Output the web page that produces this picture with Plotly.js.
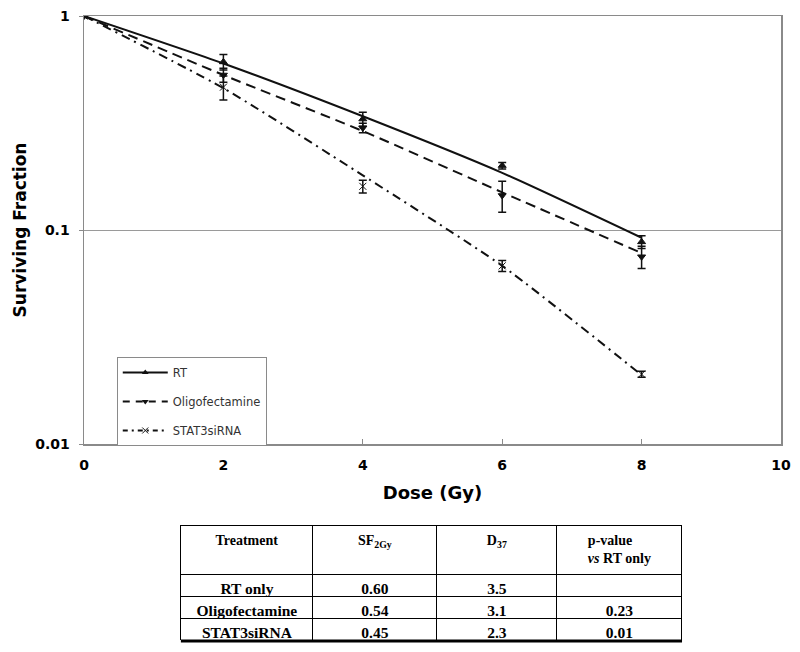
<!DOCTYPE html>
<html>
<head>
<meta charset="utf-8">
<script src="https://cdn.plot.ly/plotly-3.0.1.min.js"></script>
<style>
  body { margin: 0; background: #fff; }
  #chart { width: 800px; height: 652px; }
</style>
</head>
<body>
<div id="chart"></div>
<script>
// Doses (Gy)
const dose = [0, 2, 4, 6, 8];

// Fitted survival curves
const fitRT = [1, 0.60, 0.34, 0.185, 0.092];
const fitOligo = [1, 0.53, 0.29, 0.15, 0.078];
const fitStat3 = [1, 0.46, 0.18, 0.068, 0.021];

// Measured points and error bars
const ptRT = [1, 0.61, 0.33, 0.20, 0.088];
const errRT = [0, 0.05, 0.025, 0.007, 0.006];
const ptOligo = [1, 0.53, 0.30, 0.145, 0.075];
const errOligo = [0, 0.04, 0.015, 0.024, 0.009];
const ptStat3 = [1, 0.465, 0.16, 0.068, 0.0212];
const errStat3 = [0, 0.06, 0.011, 0.004, 0.0007];

// Table under the chart
const tblHeader = ['<b>Treatment</b>', '<b>SF<sub>2Gy</sub></b>', '<b>D<sub>37</sub></b>', '<b>p-value</b><br><b><i>vs</i> RT only</b>'];
const tblTreatment = ['RT only', 'Oligofectamine', 'STAT3siRNA'];
const tblSF2 = ['0.60', '0.54', '0.45'];
const tblD37 = ['3.5', '3.1', '2.3'];
const tblP = ['', '0.23', '0.01'];

const ink = '#111';

function fitTrace(y, dash, name) {
  return {
    x: dose, y: y, type: 'scatter', mode: 'lines', name: name,
    line: {color: ink, width: 2, dash: dash, shape: 'spline', smoothing: 0.6},
    showlegend: false, hoverinfo: 'skip'
  };
}

function pointTrace(y, err, symbol, name) {
  return {
    x: dose, y: y, type: 'scatter', mode: 'markers', name: name,
    marker: {symbol: symbol, size: 7, color: ink, line: {color: ink, width: 1}},
    error_y: {type: 'data', array: err, visible: true, color: ink, thickness: 1.5, width: 4},
    showlegend: false
  };
}

// legend-only entries (line + marker sample)
function legendTrace(dash, symbol, name) {
  return {
    x: [null], y: [null], type: 'scatter', mode: 'lines+markers', name: name,
    legendgroup: name,
    line: {color: ink, width: 2, dash: dash},
    marker: {symbol: symbol, size: 6, color: ink},
    showlegend: true
  };
}

const dashDot = '9px,5px,2px,5px';

// table placement (paper coords)
const tblX = [0.139, 0.858];
const tblY = [0.0095, 0.1933];

const traces = [
  fitTrace(fitRT, 'solid', 'RT'),
  fitTrace(fitOligo, '10px,6px', 'Oligofectamine'),
  fitTrace(fitStat3, dashDot, 'STAT3siRNA'),
  pointTrace(ptRT, errRT, 'triangle-up', 'RT'),
  pointTrace(ptOligo, errOligo, 'triangle-down', 'Oligofectamine'),
  pointTrace(ptStat3, errStat3, 'x-thin-open', 'STAT3siRNA'),
  legendTrace('solid', 'triangle-up', 'RT'),
  legendTrace('7px,6px', 'triangle-down', 'Oligofectamine'),
  legendTrace('5px,4px,2px,4px', 'x-thin-open', 'STAT3siRNA'),
  {
    type: 'table',
    domain: {x: tblX, y: tblY},
    columnwidth: [132, 124, 120, 125],
    header: {
      values: tblHeader,
      align: 'center',
      height: 41,
      line: {color: '#000', width: 1},
      fill: {color: '#fff'},
      font: {family: 'Liberation Serif', size: 14, color: '#000'}
    },
    cells: {
      values: [tblTreatment, tblSF2, tblD37, tblP],
      align: 'center',
      height: 22,
      line: {color: '#000', width: 1},
      fill: {color: '#fff'},
      font: {family: 'Liberation Serif', size: 15.5, color: '#000', weight: 'bold'}
    }
  }
];

const axisGray = '#8a8a8a';
const tickFont = {family: 'DejaVu Sans', size: 14, color: '#000', weight: 'bold'};

const layout = {
  width: 800, height: 652,
  margin: {l: 84, r: 19, t: 16, b: 5},
  paper_bgcolor: '#fff', plot_bgcolor: '#fff',
  showlegend: true,
  legend: {
    x: 0.047, y: 0.4596, xanchor: 'left', yanchor: 'top',
    bordercolor: axisGray, borderwidth: 1, bgcolor: '#fff',
    font: {family: 'DejaVu Sans', size: 11.5, color: '#333'},
    itemwidth: 45,
    tracegroupgap: 10
  },
  xaxis: {
    range: [0, 10], dtick: 2, tick0: 0,
    showline: true, linecolor: axisGray, linewidth: 1.5, mirror: true,
    showgrid: false, zeroline: false,
    ticks: 'inside', ticklen: 5, tickcolor: axisGray,
    ticklabelstandoff: 8,
    tickfont: tickFont,
    title: {text: 'Dose (Gy)', font: {family: 'DejaVu Sans', size: 18, color: '#000', weight: 'bold'}, standoff: 14}
  },
  yaxis: {
    type: 'log', range: [-2, 0], domain: [0.3217, 1],
    tickvals: [0.01, 0.1, 1], ticktext: ['0.01', '0.1', '1'],
    showline: true, linecolor: axisGray, linewidth: 1.5, mirror: true,
    showgrid: true, gridcolor: '#9a9a9a', gridwidth: 1,
    zeroline: false,
    ticks: 'outside', ticklen: 4, tickcolor: axisGray,
    ticklabelstandoff: 6,
    tickfont: tickFont,
    title: {text: 'Surviving Fraction', font: {family: 'DejaVu Sans', size: 17, color: '#000', weight: 'bold'}, standoff: 4}
  },
  shapes: [
    {type: 'line', xref: 'paper', yref: 'paper', x0: tblX[0], x1: tblX[1], y0: tblY[0], y1: tblY[0],
     line: {color: '#000', width: 3}}
  ]
};

Plotly.newPlot('chart', traces, layout, {displayModeBar: false, staticPlot: true});
</script>
</body>
</html>
